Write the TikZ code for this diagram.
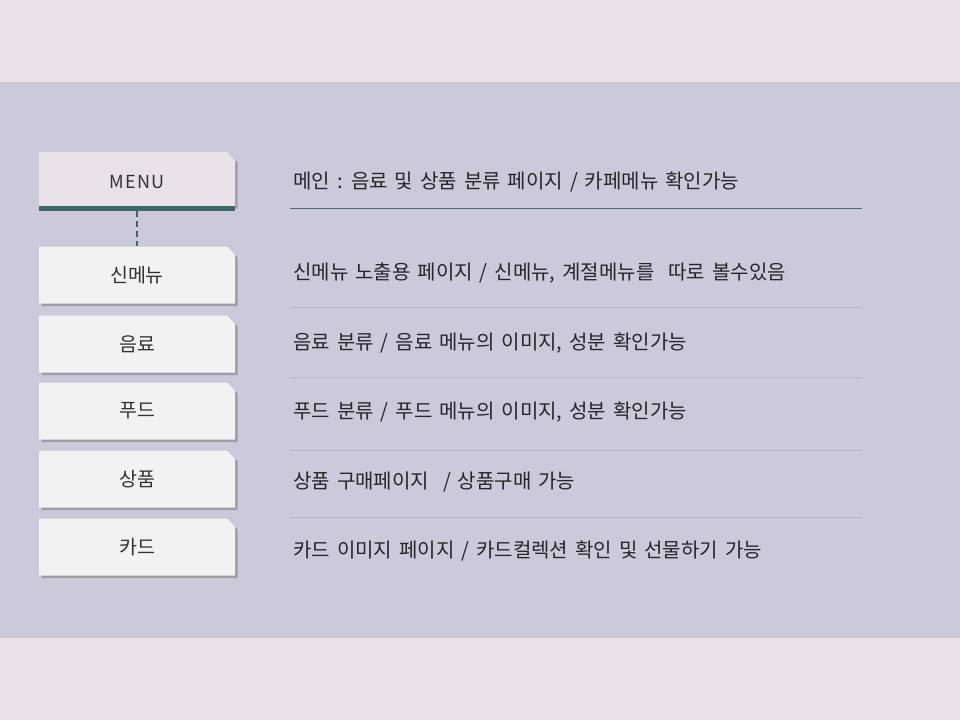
\documentclass[tikz,border=0pt]{standalone}
\usepackage{fontspec}
\newfontfamily\kr{Noto Sans CJK KR}
\usetikzlibrary{positioning}
\usetikzlibrary{shapes.misc}
\usetikzlibrary{shadows}
\definecolor{band-light}{RGB}{232, 226, 230}
\definecolor{band-main}{RGB}{204, 202, 218}
\definecolor{box-fill}{RGB}{242, 242, 242}
\definecolor{menu-fill}{RGB}{232, 226, 232}
\definecolor{menu-teal}{RGB}{62, 104, 102}
\definecolor{rule-gray}{RGB}{184, 182, 198}
\newcommand{\descfont}{\kr\fontsize{20}{22}\selectfont\spaceskip=7pt plus 1pt\relax}

\begin{document}
\begin{tikzpicture}[x=1pt, y=-1pt,
    tab/.style={chamfered rectangle, chamfered rectangle corners=north east,
        chamfered rectangle xsep=4pt, chamfered rectangle ysep=4pt,
        minimum width=196pt, minimum height=57pt, inner sep=0pt,
        fill=box-fill, font=\kr\fontsize{19.5}{22}\selectfont, text=black!80,
        drop shadow={shadow xshift=2.5pt, shadow yshift=-2.5pt, fill=black!50, opacity=0.6}},
    desc/.style={anchor=west, inner sep=0pt, text=black!85}]
                \useasboundingbox (0, 0) rectangle (960, 720);
                \fill[band-light] (0, 0) rectangle (960, 720);
                \fill[band-main] (0, 82) rectangle (960, 638);
                % menu column
                \node[tab, fill=menu-fill, minimum height=54pt, text height=19pt, text depth=0pt,
                    font=\kr\fontsize{18}{20}\selectfont] (menu) at (137, 179) {M\kern1ptE\kern1ptN\kern1ptU};
                \fill[menu-teal] (menu.south west) rectangle ([yshift=-5pt]menu.south east);
                \coordinate (menubar) at ([yshift=-5pt]menu.south);
                \node[tab] (new) at (137, 275) {신메뉴};
                \node[tab] (drink) at (137, 344) {음료};
                \node[tab] (food) at (137, 411) {푸드};
                \node[tab] (goods) at (137, 479) {상품};
                \node[tab] (card) at (137, 547) {카드};
                \draw[menu-teal, line width=2.5pt, dash pattern=on 6pt off 4pt] (menubar) -- (new.north);
                % descriptions
                \node[desc] (d0) at (293, 182) {\descfont 메인 : 음료 및 상품 분류 페이지 / 카페메뉴 확인가능};
                \node[desc] (d1) at (293, 273) {\descfont 신메뉴 노출용 페이지 / 신메뉴, 계절메뉴를 \ 따로 볼수있음};
                \node[desc] (d2) at (293, 343) {\descfont 음료 분류 / 음료 메뉴의 이미지, 성분 확인가능};
                \node[desc] (d3) at (293, 412) {\descfont 푸드 분류 / 푸드 메뉴의 이미지, 성분 확인가능};
                \node[desc] (d4) at (293, 482) {\descfont 상품 구매페이지 \ / 상품구매 가능};
                \node[desc] (d5) at (293, 551) {\descfont 카드 이미지 페이지 / 카드컬렉션 확인 및 선물하기 가능};
                % separators
                \draw[menu-teal!80!gray, line width=1pt] (290, 208) -- (862, 208);
                \foreach \y in {307, 377, 450, 517}
                    \draw[rule-gray, line width=0.8pt] (290, \y) -- (862, \y);
            \end{tikzpicture}
\end{document}
